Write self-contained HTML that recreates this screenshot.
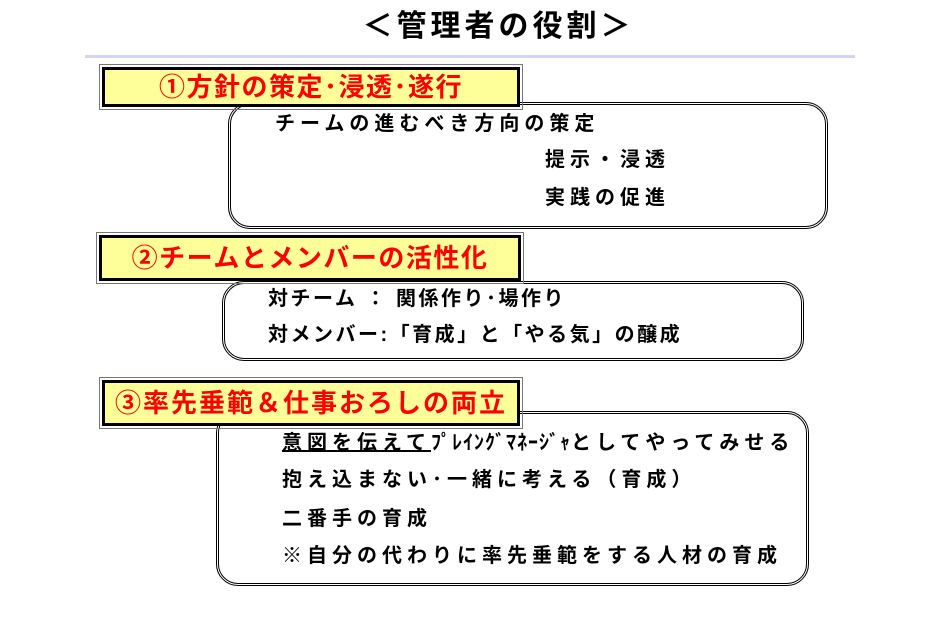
<!DOCTYPE html>
<html><head><meta charset="utf-8"><style>
body{margin:0;width:942px;height:630px;background:#fff;position:relative;overflow:hidden;font-family:"Liberation Sans","Noto Sans CJK JP",sans-serif;}
.a{position:absolute;white-space:nowrap;}
.t{font-size:20px;letter-spacing:5px;font-weight:bold;color:#000;line-height:24px;}
.lab{position:absolute;background:#ffff99;border:3px solid #000;outline:1px solid #777;outline-offset:2px;color:#f00;font-weight:bold;font-size:26px;line-height:34px;text-align:center;white-space:nowrap;letter-spacing:1.5px;}
.rb{position:absolute;border:3px double #000;border-radius:22px;background:#fff;box-sizing:border-box;}
</style></head><body>
<div class="a" style="left:0;width:997px;top:6px;text-align:center;font-size:30px;font-weight:bold;letter-spacing:4px;line-height:42px;">＜管理者の役割＞</div>
<div class="a" style="left:85px;width:770px;top:55px;height:3px;background:#d4d4f4;"></div>

<div class="rb" style="left:228px;top:102px;width:600px;height:127px;"></div>
<div class="lab" style="left:102px;top:67px;width:412px;height:34px;">①方針の策定･浸透･遂行</div>
<div class="a t" style="left:275px;top:112px;">チームの進むべき方向の策定</div>
<div class="a t" style="left:545px;top:148px;">提示・浸透</div>
<div class="a t" style="left:545px;top:186px;">実践の促進</div>

<div class="rb" style="left:222px;top:281px;width:582px;height:80px;"></div>
<div class="lab" style="left:99px;top:235px;width:416px;height:40px;line-height:40px;">②チームとメンバーの活性化</div>
<div class="a t" style="left:268px;top:287px;letter-spacing:2.5px;">対チーム ： 関係作り･場作り</div>
<div class="a t" style="left:268px;top:323px;letter-spacing:2.5px;">対メンバー:「育成」と「やる気」の醸成</div>

<div class="rb" style="left:216px;top:411px;width:593px;height:175px;"></div>
<div class="lab" style="left:102px;top:380px;width:412px;height:40px;line-height:40px;letter-spacing:2px;">③率先垂範＆仕事おろしの両立</div>
<div class="a t" style="left:282px;top:431px;"><span style="text-decoration:underline;">意図を伝えて</span><span style="letter-spacing:1px">ﾌﾟﾚｲﾝｸﾞﾏﾈｰｼﾞｬ</span>としてやってみせる</div>
<div class="a t" style="left:282px;top:468px;">抱え込まない･一緒に考える（育成）</div>
<div class="a t" style="left:282px;top:507px;">二番手の育成</div>
<div class="a t" style="left:282px;top:544px;">※自分の代わりに率先垂範をする人材の育成</div>
</body></html>
